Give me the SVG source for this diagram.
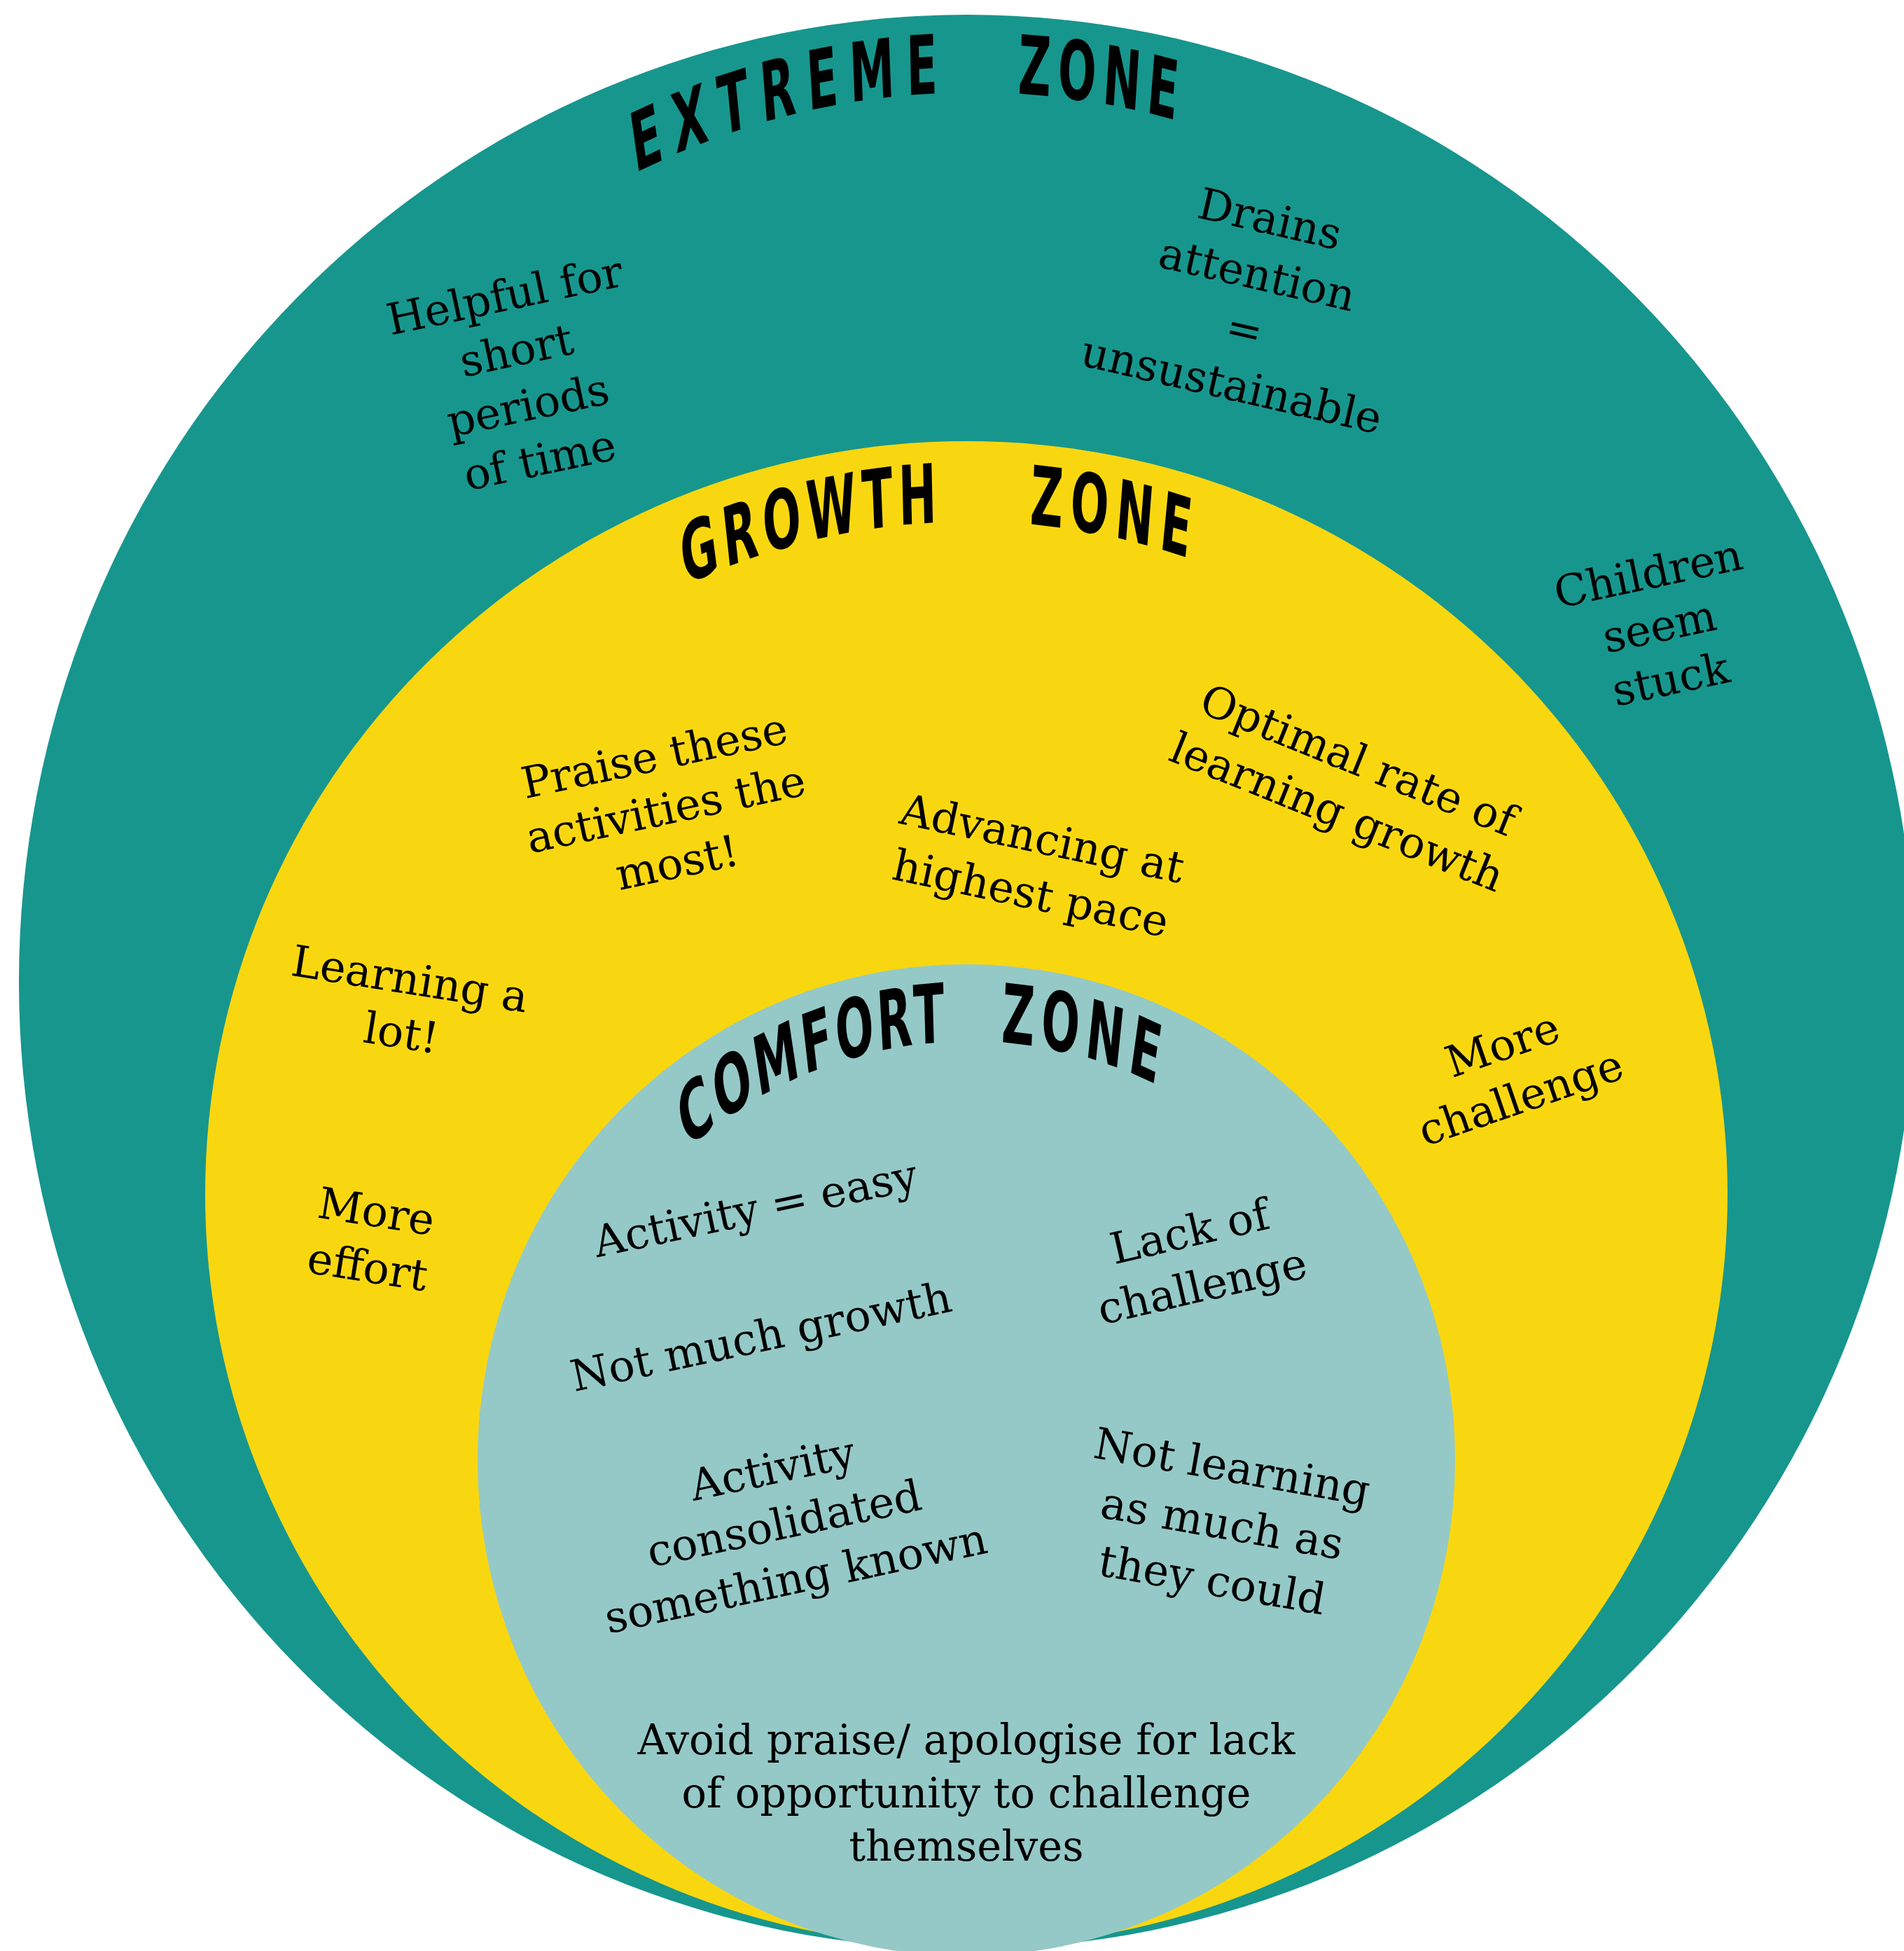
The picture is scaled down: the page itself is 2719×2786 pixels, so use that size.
<svg xmlns="http://www.w3.org/2000/svg" width="2719" height="2786" viewBox="0 0 2719 2786">
<style>
.lbl{font-family:"DejaVu Serif","Liberation Serif",serif;font-size:62px;fill:#000;text-anchor:middle}
.title{font-family:"DejaVu Sans","Liberation Sans",sans-serif;font-weight:bold;font-size:117px;fill:#000}
.teal{fill:#17968E}.yellow{fill:#F9D710}.light{fill:#94C9C7}
</style>
<defs>
<path id="pExt1" d="M 1648.7 247.5 A 1941.8 1068 0 0 1 2628.9 133.5"/>
<path id="pExt2" d="M 2642.4 133.9 A 1941.8 1068 0 0 1 3191.5 196.4"/>
<path id="pGro1" d="M 1777.8 835.7 A 1745.5 960 0 0 1 2609.5 746.3"/>
<path id="pGro2" d="M 2673.3 748.8 A 1745.5 960 0 0 1 3255.8 834.9"/>
<path id="pCom1" d="M 1782.4 1641.9 A 1101.8 606 0 0 1 2556.5 1487.4"/>
<path id="pCom2" d="M 2598.9 1488.6 A 1101.8 606 0 0 1 3150.2 1596.6"/>
</defs>
<rect width="2719" height="2786" fill="#fff"/>
<g id="extreme-zone">
<ellipse class="teal" cx="1381" cy="1402" rx="1354" ry="1381"/>
<text class="title" transform="scale(0.55,1)"><textPath href="#pExt1" letter-spacing="30">EXTREME</textPath><textPath href="#pExt2" letter-spacing="17">ZONE</textPath></text>
<g transform="translate(746,541) rotate(-12)"><text class="lbl"><tspan x="0" y="-100">Helpful for</tspan><tspan x="0" y="-20">short</tspan><tspan x="0" y="60">periods</tspan><tspan x="0" y="140">of time</tspan></text></g>
<g transform="translate(1786,432) rotate(13)"><text class="lbl"><tspan x="0" y="-101">Drains</tspan><tspan x="0" y="-20">attention</tspan><tspan x="0" y="61">=</tspan><tspan x="0" y="142">unsustainable</tspan></text></g>
<g transform="translate(2370,896) rotate(-12)"><text class="lbl"><tspan x="0" y="-57">Children</tspan><tspan x="0" y="20">seem</tspan><tspan x="0" y="97">stuck</tspan></text></g>
</g>
<g id="growth-zone">
<ellipse class="yellow" cx="1380" cy="1705" rx="1087" ry="1075"/>
<text class="title" transform="scale(0.55,1)"><textPath href="#pGro1" letter-spacing="14">GROWTH</textPath><textPath href="#pGro2" letter-spacing="18">ZONE</textPath></text>
<g transform="translate(951,1157) rotate(-12)"><text class="lbl"><tspan x="0" y="-58">Praise these</tspan><tspan x="0" y="20">activities the</tspan><tspan x="0" y="98">most!</tspan></text></g>
<g transform="translate(1480,1238) rotate(12)"><text class="lbl"><tspan x="0" y="-20">Advancing at</tspan><tspan x="0" y="60">highest pace</tspan></text></g>
<g transform="translate(1924,1124) rotate(22)"><text class="lbl"><tspan x="0" y="-20">Optimal rate of</tspan><tspan x="0" y="60">learning growth</tspan></text></g>
<g transform="translate(579,1438) rotate(9)"><text class="lbl"><tspan x="0" y="-19">Learning a</tspan><tspan x="0" y="59">lot!</tspan></text></g>
<g transform="translate(531,1771) rotate(9)"><text class="lbl"><tspan x="0" y="-20">More</tspan><tspan x="0" y="60">effort</tspan></text></g>
<g transform="translate(2159,1531) rotate(-19)"><text class="lbl"><tspan x="0" y="-20">More</tspan><tspan x="0" y="60">challenge</tspan></text></g>
</g>
<g id="comfort-zone">
<ellipse class="light" cx="1380" cy="2085" rx="698" ry="708"/>
<text class="title" transform="scale(0.55,1)"><textPath href="#pCom1" letter-spacing="8">COMFORT</textPath><textPath href="#pCom2" letter-spacing="16">ZONE</textPath></text>
<g transform="translate(1079,1727) rotate(-12)"><text class="lbl"><tspan x="0" y="20">Activity = easy</tspan></text></g>
<g transform="translate(1087,1910) rotate(-12)"><text class="lbl"><tspan x="0" y="20">Not much growth</tspan></text></g>
<g transform="translate(1120,2177) rotate(-12)"><text class="lbl"><tspan x="0" y="-60">Activity</tspan><tspan x="0" y="20">consolidated</tspan><tspan x="0" y="100">something known</tspan></text></g>
<g transform="translate(1708,1799) rotate(-13)"><text class="lbl"><tspan x="0" y="-20">Lack of</tspan><tspan x="0" y="60">challenge</tspan></text></g>
<g transform="translate(1745,2177) rotate(10)"><text class="lbl"><tspan x="0" y="-62">Not learning</tspan><tspan x="0" y="20">as much as</tspan><tspan x="0" y="102">they could</tspan></text></g>
<text class="lbl" style="font-size:59px"><tspan x="1380" y="2505">Avoid praise/ apologise for lack</tspan><tspan x="1380" y="2581">of opportunity to challenge</tspan><tspan x="1380" y="2657">themselves</tspan></text>
</g>
<g id="connectors"></g>
</svg>
